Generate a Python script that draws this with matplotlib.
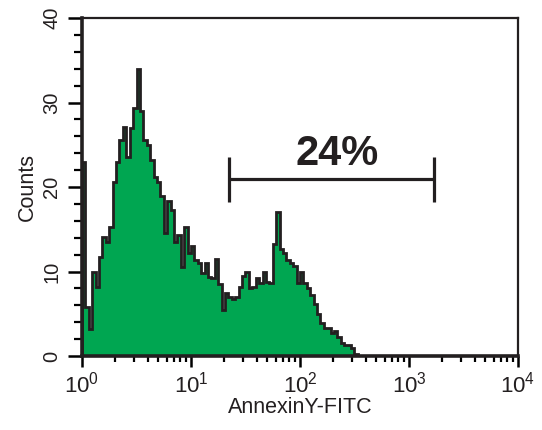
"""
Annexin V-FITC Histogramm (Durchfluss-Zytometrie)
Nachbau eines CellQuest-artigen Histogramms mit Gate-Marker
"""

import numpy as np
import matplotlib
matplotlib.use("Agg")
import matplotlib.pyplot as plt
from matplotlib.ticker import LogLocator, NullFormatter, FixedLocator

# ============================================================
# DATEN
# ============================================================

# 32 Kanäle pro Dekade, 4 Dekaden (10^0 .. 10^4)
CHANNELS_PER_DECADE = 32
N_DECADES = 4

# Zählwerte pro Kanal
counts = [
    23, 5.8, 3.2, 10, 8.2, 11.7, 14.1, 13.5, 15.3, 20.6,
    23, 25.6, 27.1, 23.6, 27, 29.3, 34, 29, 25.6, 25,
    23.2, 21.2, 20.6, 18.9, 14.5, 18.3, 17.3, 13.5, 14.3, 10.5,
    15.3, 12.2, 13, 11.4, 11, 9.8, 11, 9.4, 9.2, 11.5,
    8.5, 5.5, 7.4, 7, 6.8, 7, 8.2, 9.5, 10, 8,
    8.2, 9.2, 8.6, 10, 8.8, 8.6, 13.3, 17, 12.7, 12.2,
    11.4, 11, 10.6, 8.6, 10, 8.6, 8, 7.2, 6.2, 5,
    3.9, 3.3, 3.3, 2.7, 2.9, 2.3, 1.5, 1.3, 1.3, 0.9,
    0.2,
]
counts = counts + [0] * (CHANNELS_PER_DECADE * N_DECADES - len(counts))

# Gate-Marker (Annexin-positive Zellen)
GATE_LO = 22.3
GATE_HI = 1695
GATE_Y = 20.9
GATE_LABEL = "24%"

y_ticks = [0, 10, 20, 30, 40]
x_tick_labels = [r"$10^{0}$", r"$10^{1}$", r"$10^{2}$", r"$10^{3}$", r"$10^{4}$"]

# ============================================================
# STIL
# ============================================================
COLOR_FILL = "#00A651"
COLOR_LINE = "#231F20"
COLOR_TEXT = "#231F20"
FONT_MAIN = "Liberation Sans"

plt.rcParams.update({
    "font.family": FONT_MAIN,
    "mathtext.fontset": "custom",
    "mathtext.rm": FONT_MAIN,
    "mathtext.it": FONT_MAIN,
    "font.size": 14,
})

# ============================================================
# PLOT
# ============================================================
fig = plt.figure(figsize=(5.42, 4.30), dpi=100, facecolor="white")
ax = fig.add_axes([0.1513, 0.1721, 0.8044, 0.786])

edges = 10 ** (np.arange(len(counts) + 1) / CHANNELS_PER_DECADE)
ax.stairs(counts, edges, fill=True, color=COLOR_FILL, zorder=2)
ax.stairs(counts, edges, color=COLOR_LINE, linewidth=2.0, zorder=3)

ax.set_xscale("log")
ax.set_xlim(1, 10 ** N_DECADES)
ax.set_ylim(0, 40)

# Gate-Marker
ax.plot([GATE_LO, GATE_HI], [GATE_Y, GATE_Y], color=COLOR_LINE, lw=2.3, solid_capstyle="butt", zorder=4)
ax.vlines([GATE_LO, GATE_HI], GATE_Y - 2.7, GATE_Y + 2.6, color=COLOR_LINE, lw=2.3, zorder=4)
ax.text(np.sqrt(GATE_LO * GATE_HI) * 1.13, GATE_Y + 1.7, GATE_LABEL, ha="center", va="baseline",
        fontsize=30, fontweight="bold", color=COLOR_TEXT, zorder=5)

# Y-Achse
ax.set_yticks(y_ticks)
ax.set_yticklabels([str(v) for v in y_ticks], rotation=90, va="center", color=COLOR_TEXT, fontsize=14.5)
ax.yaxis.set_minor_locator(FixedLocator(np.arange(0, 41, 2)))
ax.tick_params(axis="y", which="major", direction="out", length=10, width=1.8, pad=5)
ax.tick_params(axis="y", which="minor", direction="out", length=6, width=1.6)
ax.set_ylabel("Counts", fontsize=15.5, color=COLOR_TEXT, labelpad=3)

# X-Achse
ax.set_xticks([10 ** k for k in range(N_DECADES + 1)])
ax.set_xticklabels(x_tick_labels, color=COLOR_TEXT, fontsize=16)
ax.xaxis.set_minor_locator(LogLocator(base=10, subs=np.arange(2, 10)))
ax.xaxis.set_minor_formatter(NullFormatter())
ax.tick_params(axis="x", which="major", direction="out", length=8, width=1.8, pad=3)
ax.tick_params(axis="x", which="minor", direction="out", length=4, width=1.6)
ax.set_xlabel("AnnexinY-FITC", fontsize=15.5, color=COLOR_TEXT, labelpad=0)

# Rahmen
for side in ["left", "bottom"]:
    ax.spines[side].set_linewidth(2.6)
for side in ["top", "right"]:
    ax.spines[side].set_linewidth(1.6)
for spine in ax.spines.values():
    spine.set_edgecolor(COLOR_LINE)
    spine.set_zorder(6)

fig.savefig("out.png", dpi=100, facecolor="white")
plt.close(fig)
